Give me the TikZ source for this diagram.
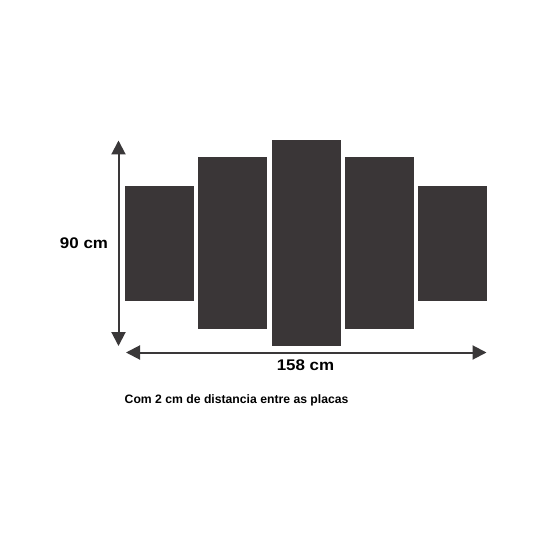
\documentclass[tikz,border=0pt]{standalone}
\usepackage{fontspec}
\setmainfont{Liberation Sans}
\newfontfamily\cotafont[FakeStretch=1.1]{Liberation Sans}
\usetikzlibrary{arrows.meta}
\definecolor{panelgray}{RGB}{58,54,55}
\definecolor{arrowgray}{RGB}{58,56,57}

\begin{document}
\begin{tikzpicture}[x=1pt, y=-1pt]

\useasboundingbox[fill=white] (0,0) rectangle (534,534);

\tikzset
  {
    placa/.style=    {panelgray},
    cota/.style=     {arrowgray, line width=2pt,
                      {Triangle[width=14pt,length=14pt]}-{Triangle[width=14pt,length=14pt]}},
    medida/.style=   {inner sep=0pt, anchor=base, font=\cotafont\bfseries\fontsize{15.4}{18}\selectfont}
  }

\begin{scope}

% placas
\fill[placa] (125,186) rectangle (194,300.5);
\fill[placa] (198,157.5) rectangle (267,329);
\fill[placa] (271.5,140) rectangle (340.5,346);
\fill[placa] (345,157.5) rectangle (414,329);
\fill[placa] (418,186) rectangle (487,300.5);

\end{scope}

% cotas
\coordinate (alto) at (118.5,140.5);
\coordinate (baixo) at (118.5,346);
\coordinate (esq) at (126,352.5);
\coordinate (dir) at (486.5,352.5);

\draw[cota] (alto) -- (baixo);
\draw[cota] (esq) -- (dir);

\node[medida] (altura) at (84,248) {90 cm};
\node[medida] (largura) at (305.5,370.5) {158 cm};

\node[inner sep=0pt, anchor=base west, font=\bfseries\fontsize{12.2}{14}\selectfont]
 (nota) at (124.5,403.5) {Com 2 cm de distancia entre as placas};

\end{tikzpicture}
\end{document}
